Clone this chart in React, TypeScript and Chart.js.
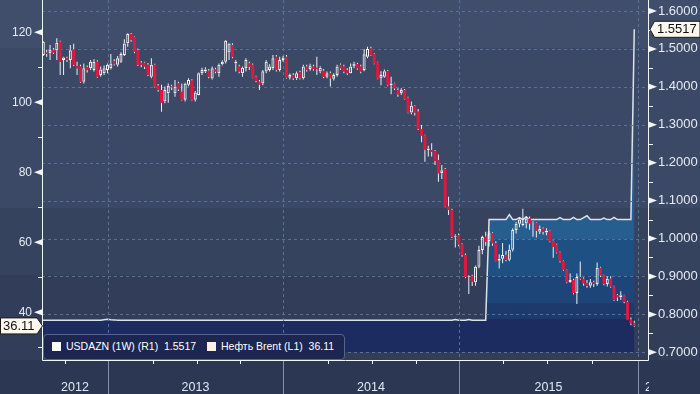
import React, { useEffect, useRef } from "react";
import { Chart, registerables } from "chart.js";

Chart.register(...registerables);
Chart.defaults.font.family = "'Liberation Sans', Arial, sans-serif";

// Weekly Brent candles, index 0 = week ending 24 Aug 2012
const brentOpen = [
  113.5, 114.2, 114.0, 115.0, 114.8, 117.3, 112.1, 112.6, 112.1, 115.1,
  110.4, 110.2, 105.9, 110.0, 109.7, 109.2, 111.6, 107.8, 108.3, 109.2,
  109.7, 111.8, 110.7, 111.6, 113.5, 116.9, 119.5, 118.6, 114.9, 111.3,
  111.3, 110.7, 107.3, 110.7, 104.7, 103.5, 100.2, 102.6, 104.5, 102.6,
  105.4, 103.0, 100.7, 105.0, 106.2, 100.7, 102.1, 108.3, 108.8, 109.0,
  106.8, 109.4, 108.3, 110.9, 111.6, 114.2, 116.4, 111.1, 110.2, 108.3,
  109.7, 111.1, 110.7, 107.3, 105.9, 105.4, 108.8, 109.2, 109.7, 113.0,
  109.2, 112.1, 113.0, 107.0, 107.8, 106.9, 108.6, 106.9, 110.2, 109.5,
  110.2, 109.9, 108.8, 109.0, 107.3, 108.3, 106.7, 107.8, 110.7, 110.2,
  109.2, 108.3, 110.2, 110.9, 110.2, 109.2, 113.0, 115.4, 113.7, 111.4,
  106.8, 107.3, 108.9, 104.9, 105.4, 103.5, 102.6, 103.5, 101.3, 97.1,
  99.0, 97.3, 92.4, 90.5, 86.4, 86.4, 86.1, 83.5, 79.7, 80.9,
  70.2, 69.2, 61.6, 62.0, 59.4, 56.4, 50.1, 50.4, 48.6, 53.0,
  57.8, 61.6, 60.3, 62.6, 59.7, 54.7, 55.3, 56.4, 55.0, 57.9,
  63.5, 65.3, 64.9, 65.4, 66.8, 65.4, 65.6, 63.0, 63.9, 62.8,
  63.3, 60.3, 59.3, 57.1, 54.6, 52.2, 48.6, 49.2, 45.5, 50.1,
  49.6, 48.4, 47.6, 48.6, 48.1, 52.7, 50.5, 48.1, 49.6, 47.4,
  44.9, 44.3, 44.9, 43.0, 37.9, 36.9,
];
const brentHigh = [
  117.5, 115.0, 116.4, 115.5, 118.3, 117.6, 113.0, 113.0, 116.4, 116.7,
  111.6, 110.7, 111.1, 110.5, 112.1, 112.3, 112.0, 110.2, 110.5, 111.1,
  113.8, 112.3, 113.2, 114.3, 118.0, 119.7, 119.8, 118.8, 115.4, 111.8,
  111.6, 111.2, 112.6, 111.0, 105.2, 105.0, 104.5, 105.4, 105.0, 106.4,
  105.9, 105.4, 105.6, 106.9, 106.6, 103.2, 108.5, 109.9, 110.0, 109.5,
  110.2, 109.9, 111.1, 112.0, 117.8, 116.9, 116.9, 112.1, 110.7, 110.2,
  112.6, 111.6, 111.1, 107.6, 106.4, 109.2, 112.1, 110.9, 113.5, 113.5,
  113.0, 113.3, 113.5, 108.2, 108.3, 108.8, 109.0, 110.7, 110.7, 111.0,
  110.7, 113.0, 110.3, 109.5, 108.8, 108.8, 108.3, 110.7, 111.1, 110.7,
  109.7, 111.1, 111.6, 111.3, 110.7, 115.2, 115.9, 115.9, 114.0, 111.6,
  108.9, 109.4, 109.2, 107.3, 105.6, 104.0, 104.0, 103.8, 101.6, 100.2,
  99.2, 98.1, 93.5, 90.7, 87.6, 88.3, 86.4, 85.1, 82.1, 81.2,
  73.0, 69.6, 62.3, 62.5, 59.7, 56.8, 50.6, 50.7, 53.4, 59.0,
  61.9, 63.0, 63.2, 62.9, 60.3, 56.6, 59.8, 57.5, 59.4, 64.0,
  65.8, 67.1, 69.6, 67.5, 67.4, 66.0, 65.8, 64.8, 64.2, 64.0,
  63.5, 60.5, 59.6, 57.4, 54.8, 52.4, 51.1, 49.6, 51.1, 54.5,
  50.0, 49.2, 49.5, 49.0, 54.2, 53.0, 50.7, 50.3, 50.3, 47.6,
  45.2, 46.0, 45.0, 43.3, 38.5, 37.6,
];
const brentLow = [
  113.2, 113.0, 112.1, 113.8, 112.1, 107.8, 107.8, 111.5, 109.7, 110.4,
  107.8, 105.6, 105.4, 108.5, 109.2, 108.8, 107.0, 107.3, 107.8, 108.3,
  109.4, 110.5, 110.2, 111.2, 113.2, 115.9, 117.3, 114.0, 110.4, 110.0,
  109.5, 107.5, 106.9, 104.2, 103.0, 97.3, 99.7, 99.9, 103.5, 101.6,
  103.2, 100.5, 100.2, 104.6, 100.5, 100.2, 102.0, 107.8, 108.4, 106.9,
  106.5, 108.3, 107.3, 110.5, 111.1, 112.1, 112.6, 108.8, 108.3, 107.3,
  108.8, 109.2, 106.8, 105.7, 103.5, 104.9, 108.3, 108.8, 109.2, 108.8,
  108.8, 111.6, 106.8, 106.5, 106.4, 106.4, 106.5, 106.5, 108.8, 109.0,
  109.0, 107.8, 108.3, 106.9, 106.9, 104.5, 106.2, 107.3, 109.2, 108.3,
  107.8, 108.2, 109.7, 109.3, 108.3, 108.9, 112.6, 113.3, 110.9, 106.6,
  104.9, 107.0, 104.6, 102.3, 103.5, 101.6, 102.1, 100.7, 96.9, 96.6,
  96.2, 92.1, 88.6, 83.0, 84.5, 84.5, 82.1, 77.3, 78.1, 70.0,
  67.8, 61.2, 58.5, 58.9, 55.9, 49.7, 45.2, 47.5, 47.6, 52.6,
  56.6, 59.0, 58.8, 59.0, 54.6, 52.5, 54.0, 54.6, 54.6, 57.4,
  62.5, 64.3, 64.6, 64.0, 63.6, 61.6, 61.4, 62.4, 62.2, 62.0,
  60.0, 55.6, 56.8, 54.2, 51.9, 48.3, 48.4, 45.1, 42.4, 49.3,
  47.6, 47.0, 47.0, 47.2, 47.6, 50.1, 47.7, 47.4, 47.0, 43.3,
  43.2, 43.5, 42.6, 37.8, 36.3, 35.9,
];
const brentClose = [
  117.3, 113.8, 115.0, 114.2, 117.0, 111.6, 112.8, 112.1, 114.9, 110.7,
  109.7, 105.9, 109.7, 109.2, 111.6, 111.6, 107.3, 109.4, 109.7, 110.7,
  111.1, 110.9, 112.6, 113.8, 116.8, 119.5, 117.8, 114.5, 110.7, 110.7,
  110.2, 107.8, 110.7, 104.5, 103.5, 99.9, 103.5, 104.7, 104.3, 104.5,
  103.7, 100.7, 105.4, 106.4, 100.7, 102.8, 108.3, 109.2, 109.4, 107.3,
  109.7, 108.8, 110.7, 111.6, 117.6, 116.8, 113.0, 111.6, 108.8, 109.9,
  112.1, 110.2, 106.9, 106.1, 105.1, 108.9, 111.6, 110.2, 112.6, 109.2,
  112.1, 112.8, 107.0, 107.8, 106.9, 108.3, 106.9, 110.2, 109.2, 110.5,
  109.5, 109.5, 109.9, 107.3, 108.3, 106.9, 107.8, 110.2, 109.7, 108.8,
  108.3, 110.2, 111.1, 109.7, 108.8, 113.7, 115.2, 113.5, 111.1, 106.8,
  107.8, 108.9, 104.9, 105.4, 104.0, 102.3, 103.5, 100.9, 97.1, 99.0,
  97.1, 92.4, 90.5, 86.4, 86.8, 85.9, 83.2, 79.7, 80.6, 70.2,
  69.2, 61.6, 61.9, 59.4, 56.4, 50.1, 50.3, 48.8, 53.0, 57.8,
  61.5, 60.2, 62.6, 59.7, 54.7, 55.3, 56.4, 55.0, 57.9, 63.5,
  65.3, 66.5, 65.4, 66.8, 65.4, 65.6, 63.3, 63.9, 63.0, 63.3,
  60.3, 58.7, 57.1, 54.6, 52.2, 48.6, 49.2, 45.5, 50.1, 49.6,
  48.3, 47.6, 48.6, 48.1, 52.7, 50.5, 48.1, 49.6, 47.4, 43.6,
  44.3, 44.9, 43.0, 37.9, 36.9, 36.11,
];

// USD/AZN weekly rate (week index, value)
const aznWeeks = [
  -0.4, 17, 18, 19, 20, 21, 22, 121, 122, 123, 125, 126, 127, 131, 132,
  137, 138, 139, 140, 141, 142, 143, 144, 152, 153, 154, 156, 157, 158,
  159, 160, 161, 162, 165, 166, 167, 168, 169, 170, 174, 175,
];
const aznRates = [
  0.7845, 0.7845, 0.786, 0.787, 0.786, 0.7855, 0.7845, 0.7845, 0.7862, 0.7845,
  0.7845, 0.7862, 0.7845, 0.7845, 1.05, 1.05, 1.063, 1.05, 1.05, 1.055,
  1.05, 1.057, 1.05, 1.05, 1.055, 1.05, 1.05, 1.056, 1.05, 1.05,
  1.055, 1.06, 1.05, 1.05, 1.054, 1.05, 1.05, 1.056, 1.05, 1.05,
  1.5517,
];

const seriesNames = ["USDAZN (1W) (R1)", "Нефть Brent (L1)"];
const leftTicks = [40, 60, 80, 100, 120];
const leftMinorTicks = [30, 50, 70, 90, 110];
const rightTicks = [0.7, 0.8, 0.9, 1.0, 1.1, 1.2, 1.3, 1.4, 1.5, 1.6];
const rightMinorTicks = [0.75, 0.85, 0.95, 1.05, 1.15, 1.25, 1.35, 1.45, 1.55];
const yearLabels = ["2012", "2013", "2014", "2015", "2016"];
const yearStarts = [19.16, 70.98, 123.1, 176.1];
const quarterStarts = [6.4, 19.16, 32.5, 45.5, 58.2, 70.98, 84.3, 97.2, 110.3, 123.1, 136.2, 149.2, 162.4, 176.1];

const RED = "#e3173e";
const FONT = "'Liberation Sans', Arial, sans-serif";
const last = brentClose.length - 1;
const lastRate = aznRates[aznRates.length - 1];

const isUp = (i: number) => brentClose[i] >= brentOpen[i];

const customPlugin = {
  id: "bbgDecor",
  beforeDraw(chart: any) {
    const { ctx, width, height } = chart;
    const bands: [number, number, string][] = [
      [0, 48, "#414e6b"],
      [48, 208, "#3c4966"],
      [208, 275, "#36435f"],
      [275, 360, "#313d59"],
      [360, height, "#2c3853"],
    ];
    ctx.save();
    for (const [y0, y1, c] of bands) {
      ctx.fillStyle = c;
      ctx.fillRect(0, y0, width, y1 - y0);
    }
    ctx.restore();
  },
  afterDatasetDraw(chart: any, args: any) {
    if (args.index !== 0) return;
    const { ctx, chartArea: a, scales } = chart;
    ctx.save();
    ctx.strokeStyle = "#5b7191";
    ctx.lineWidth = 1;
    ctx.setLineDash([3, 3]);
    ctx.beginPath();
    for (const v of rightTicks) {
      const y = Math.round(scales.yR.getPixelForValue(v)) + 0.5;
      ctx.moveTo(a.left, y);
      ctx.lineTo(a.right, y);
    }
    for (const w of yearStarts) {
      const x = Math.round(scales.x.getPixelForValue(w)) + 0.5;
      ctx.moveTo(x, a.top);
      ctx.lineTo(x, a.bottom);
    }
    ctx.stroke();
    ctx.restore();
  },
  afterDraw(chart: any) {
    const { ctx, chartArea: a, scales, height } = chart;
    const xs = scales.x, yL = scales.yL, yR = scales.yR;
    ctx.save();
    ctx.strokeStyle = "#f2f4f7";
    ctx.lineWidth = 1;
    ctx.beginPath();
    ctx.moveTo(a.left + 0.5, a.top);
    ctx.lineTo(a.left + 0.5, a.bottom + 0.5);
    ctx.lineTo(a.right + 0.5, a.bottom + 0.5);
    ctx.lineTo(a.right + 0.5, a.top);
    for (const v of leftMinorTicks) {
      const y = Math.round(yL.getPixelForValue(v)) + 0.5;
      ctx.moveTo(a.left - 4, y);
      ctx.lineTo(a.left, y);
    }
    for (const v of rightMinorTicks) {
      const y = Math.round(yR.getPixelForValue(v)) + 0.5;
      ctx.moveTo(a.right + 0.5, y);
      ctx.lineTo(a.right + 5, y);
    }
    for (const q of quarterStarts) {
      const x = Math.round(xs.getPixelForValue(q)) + 0.5;
      ctx.moveTo(x, a.bottom + 1);
      ctx.lineTo(x, a.bottom + 4);
    }
    ctx.stroke();
    ctx.fillStyle = "#f2f4f7";
    for (const v of leftTicks) {
      const y = yL.getPixelForValue(v);
      ctx.beginPath();
      ctx.moveTo(a.left, y - 3);
      ctx.lineTo(a.left, y + 3);
      ctx.lineTo(a.left - 8, y);
      ctx.closePath();
      ctx.fill();
    }
    for (const v of rightTicks) {
      const y = yR.getPixelForValue(v);
      ctx.beginPath();
      ctx.moveTo(a.right + 1, y - 3);
      ctx.lineTo(a.right + 1, y + 3);
      ctx.lineTo(a.right + 9, y);
      ctx.closePath();
      ctx.fill();
    }
    ctx.strokeStyle = "#8391a9";
    ctx.beginPath();
    for (const w of yearStarts) {
      const x = Math.round(xs.getPixelForValue(w)) + 0.5;
      ctx.moveTo(x, a.bottom + 1);
      ctx.lineTo(x, height);
    }
    ctx.stroke();
    ctx.save();
    ctx.beginPath();
    ctx.rect(a.left, a.bottom + 1, a.right - a.left + 1, height - a.bottom);
    ctx.clip();
    ctx.font = `12.5px ${FONT}`;
    ctx.fillStyle = "#e3e8f0";
    ctx.textBaseline = "alphabetic";
    const bounds = [a.left, ...yearStarts.map((w) => xs.getPixelForValue(w)), a.right];
    yearLabels.forEach((lab, k) => {
      const l = bounds[k], r = bounds[k + 1];
      if (r <= l) return;
      const tw = ctx.measureText(lab).width;
      if (tw < r - l) {
        ctx.textAlign = "center";
        ctx.fillText(lab, (l + r) / 2, 390.5);
      } else {
        ctx.textAlign = "left";
        ctx.fillText(lab, l + 7, 390.5);
      }
    });
    ctx.restore();
    ctx.font = `13px ${FONT}`;
    ctx.textBaseline = "middle";
    ctx.textAlign = "left";
    ctx.lineWidth = 1;
    const yl = yL.getPixelForValue(brentClose[last]);
    ctx.beginPath();
    ctx.moveTo(0.5, yl - 8);
    ctx.lineTo(37, yl - 8);
    ctx.lineTo(42.5, yl);
    ctx.lineTo(37, yl + 8);
    ctx.lineTo(0.5, yl + 8);
    ctx.closePath();
    ctx.fillStyle = "#fff8ef";
    ctx.fill();
    ctx.strokeStyle = "#1c1c1c";
    ctx.stroke();
    ctx.fillStyle = "#111111";
    ctx.fillText(brentClose[last].toFixed(2), 3, yl + 0.5);

    const yr = yR.getPixelForValue(lastRate);
    ctx.beginPath();
    ctx.moveTo(650, yr);
    ctx.lineTo(654.5, yr - 8);
    ctx.lineTo(700, yr - 8);
    ctx.lineTo(700, yr + 8);
    ctx.lineTo(654.5, yr + 8);
    ctx.closePath();
    ctx.fillStyle = "#fff8ef";
    ctx.fill();
    ctx.strokeStyle = "#1c1c1c";
    ctx.stroke();
    ctx.fillStyle = "#111111";
    ctx.fillText(lastRate.toFixed(4), 657, yr + 0.5);
    ctx.restore();
  },
};

function areaFill(c: any) {
  const chart = c.chart;
  const yR = chart.scales && chart.scales.yR;
  if (!chart.chartArea || !yR) return "#1d2c60";
  const H = chart.chartArea.bottom;
  const g = chart.ctx.createLinearGradient(0, 0, 0, H);
  const stops: [number, string][] = [
    [1.0, "#255e8f"],
    [0.9, "#1f5084"],
    [0.83, "#1e4579"],
    [0.787, "#1d3a6d"],
    [0.0, "#1d2c60"],
  ];
  let prev = 0;
  stops.forEach(([v, col], k) => {
    const y = Math.min(1, Math.max(0, yR.getPixelForValue(v) / H));
    g.addColorStop(prev, col);
    g.addColorStop(k === stops.length - 1 ? 1 : y, col);
    prev = y;
  });
  return g;
}

export default function App() {
  const ref = useRef<HTMLCanvasElement>(null);

  useEffect(() => {
    const canvas = ref.current;
    if (!canvas) return;
    const bodies = brentClose.map((c, i) => ({ x: i, y: [brentOpen[i], c] }));
    const upper = brentClose.map((c, i) => ({ x: i, y: [Math.max(brentOpen[i], c), brentHigh[i]] }));
    const lower = brentClose.map((c, i) => ({ x: i, y: [brentLow[i], Math.min(brentOpen[i], c)] }));
    const azn = aznWeeks.map((w, i) => ({ x: w, y: aznRates[i] }));

    const chart = new Chart(canvas, {
      type: "bar",
      data: {
        datasets: [
          {
            type: "line",
            label: seriesNames[0],
            data: azn,
            yAxisID: "yR",
            xAxisID: "x",
            borderColor: "#dde2ea",
            borderWidth: 1.5,
            pointRadius: 0,
            tension: 0,
            fill: { value: 0.7 },
            backgroundColor: areaFill,
            order: 10,
          } as any,
          {
            label: "wick-low",
            data: lower,
            yAxisID: "yL",
            xAxisID: "x",
            backgroundColor: "#f0f0f0",
            borderWidth: 0,
            barThickness: 1,
            grouped: false,
            inflateAmount: 0,
            order: 3,
          } as any,
          {
            label: "wick-high",
            data: upper,
            yAxisID: "yL",
            xAxisID: "x",
            backgroundColor: "#f0f0f0",
            borderWidth: 0,
            barThickness: 1,
            grouped: false,
            inflateAmount: 0,
            order: 3,
          } as any,
          {
            label: seriesNames[1],
            data: bodies,
            yAxisID: "yL",
            xAxisID: "x",
            backgroundColor: (c: any) => (isUp(c.dataIndex) ? "rgba(0,0,0,0)" : RED),
            borderColor: (c: any) => (isUp(c.dataIndex) ? "#ffffff" : RED),
            borderWidth: (c: any) => (isUp(c.dataIndex) ? 1 : 0),
            borderSkipped: false,
            barThickness: 3,
            grouped: false,
            inflateAmount: 0,
            order: 1,
          } as any,
        ],
      },
      options: {
        responsive: false,
        animation: false,
        devicePixelRatio: 1,
        events: [],
        layout: { padding: { left: 0, right: 0, top: 0, bottom: 34 } },
        plugins: { legend: { display: false }, tooltip: { enabled: false } },
        scales: {
          x: { type: "linear", display: false, min: -0.385, max: 179.06, offset: false },
          yL: {
            type: "linear",
            position: "left",
            min: 26.37,
            max: 129.23,
            afterBuildTicks: (s: any) => {
              s.ticks = leftTicks.map((v) => ({ value: v }));
            },
            afterFit: (s: any) => {
              s.width = 42;
              s.paddingTop = 0;
              s.paddingBottom = 0;
            },
            grid: { display: false, drawTicks: false },
            border: { display: false },
            ticks: {
              color: "#e6ebf3",
              font: { family: FONT, size: 12 },
              padding: 10,
              autoSkip: false,
              callback: (v: any) => String(v),
            },
          },
          yR: {
            type: "linear",
            position: "right",
            min: 0.6797,
            max: 1.629,
            afterBuildTicks: (s: any) => {
              s.ticks = rightTicks.map((v) => ({ value: v }));
            },
            afterFit: (s: any) => {
              s.width = 52;
              s.paddingTop = 0;
              s.paddingBottom = 0;
            },
            grid: { display: false, drawTicks: false },
            border: { display: false },
            ticks: {
              color: "#e6ebf3",
              font: { family: FONT, size: 13 },
              padding: 10,
              autoSkip: false,
              callback: (v: any) => Number(v).toFixed(4),
            },
          },
        } as any,
      },
      plugins: [customPlugin],
    } as any);
    return () => chart.destroy();
  }, []);

  const textStyle: React.CSSProperties = {
    position: "absolute",
    top: 340,
    font: `10.5px ${FONT}`,
    lineHeight: "12px",
    color: "#ffffff",
    whiteSpace: "pre",
  };

  return (
    <div
      style={{
        position: "fixed",
        left: 0,
        top: 0,
        width: 700,
        height: 394,
        overflow: "hidden",
        background: "#2c3853",
      }}
    >
      <canvas ref={ref} width={700} height={394} style={{ display: "block", width: 700, height: 394 }} />
      <div
        style={{
          position: "absolute",
          left: 43,
          top: 334,
          width: 302,
          height: 26,
          boxSizing: "border-box",
          background: "#1c2650",
          border: "1px solid #56668a",
          borderRadius: 4,
        }}
      />
      <div style={{ position: "absolute", left: 52, top: 342, width: 9, height: 9, background: "#ffffff" }} />
      <div style={{ ...textStyle, left: 66 }}>{`${seriesNames[0]}  ${lastRate.toFixed(4)}`}</div>
      <div style={{ position: "absolute", left: 207, top: 342, width: 9, height: 9, background: "#fdf0e6" }} />
      <div style={{ ...textStyle, left: 221 }}>{`${seriesNames[1]}  ${brentClose[last].toFixed(2)}`}</div>
    </div>
  );
}
